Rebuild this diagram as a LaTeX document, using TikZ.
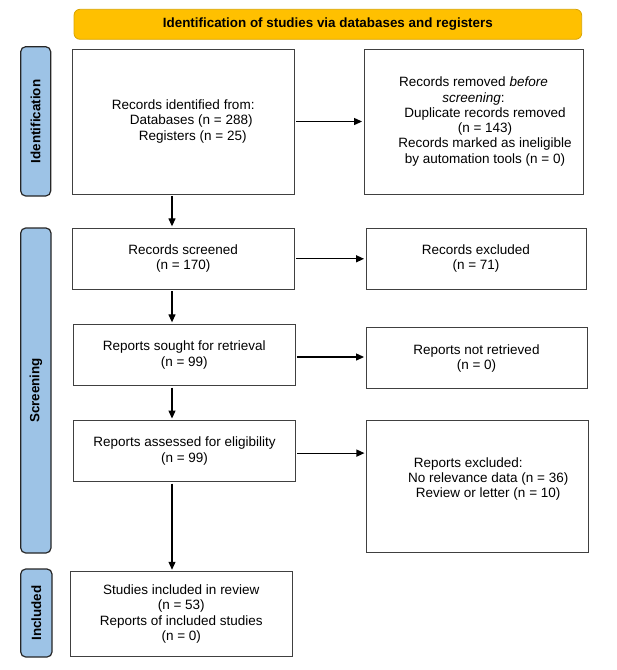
\documentclass[tikz,border=0pt]{standalone}
\usepackage{fontspec}
\setmainfont{Liberation Sans}
\usetikzlibrary{arrows.meta}
\definecolor{bannerfill}{HTML}{FFC000}
\definecolor{bannerline}{HTML}{D9A400}
\definecolor{sidefill}{HTML}{9DC3E6}
\begin{document}
\begin{tikzpicture}[x=1pt,y=-1pt,
  txt/.style={font=\fontsize{13.5}{15.3}\selectfont},
  box/.style={txt, draw=black!75, line width=0.9pt, rectangle, inner sep=0pt, align=center},
  side/.style={draw=black!85, fill=sidefill, line width=1.2pt, rounded corners=5pt, inner sep=0pt,
    font=\bfseries\fontsize{13.4}{15.3}\selectfont},
  banner/.style={draw=bannerline, fill=bannerfill, line width=0.8pt, rounded corners=6pt, inner sep=0pt,
    font=\bfseries\fontsize{13.4}{15.3}\selectfont},
  arr/.style={line width=1.2pt, -{Triangle[length=8pt,width=7pt]}, shorten <=1.5pt, shorten >=1.5pt}]
\useasboundingbox (0,0) rectangle (617,670);

% banner
\node[banner, minimum width=507.7pt, minimum height=30pt] (ban) at (327.85,24.3)
  {Identification of studies via databases and registers};

% side labels
\node[side, rotate=90, minimum width=149.3pt, minimum height=30pt] (lab1) at (35.7,121.35) {Identification};
\node[side, rotate=90, minimum width=325pt, minimum height=30.3pt] (lab2) at (35.85,390.5) {Screening};
\node[side, rotate=90, minimum width=88pt, minimum height=31.3pt] (lab3) at (36.35,613) {Included};

% boxes
\node[box, minimum width=221.5pt, minimum height=145pt] (b1) at (183.25,121.5)
  {Records identified from:\\ \rule{16pt}{0pt}Databases (n = 288)\\ \rule{19pt}{0pt}Registers (n = 25)};
\node[box, minimum width=219pt, minimum height=145pt] (b2) at (473.5,121.5)
  {Records removed \textit{before}\\ \textit{screening}:\\ \rule{23pt}{0pt}Duplicate records removed\\
   \rule{23pt}{0pt}(n = 143)\\ \rule{23pt}{0pt}Records marked as ineligible\\
   \rule{23pt}{0pt}by automation tools (n = 0)};
\node[box, minimum width=221.5pt, minimum height=61pt] (b3) at (183.25,258.8)
  {Records screened\\(n = 170)};
\node[box, minimum width=220pt, minimum height=61pt] (ex) at (476,258.8)
  {Records excluded\\(n = 71)};
\node[box, minimum width=221.5pt, minimum height=61.4pt] (b4) at (184.25,355)
  {Reports sought for retrieval\\(n = 99)};
\node[box, minimum width=221pt, minimum height=61pt] (b5) at (476.5,358.2)
  {Reports not retrieved\\(n = 0)};
\node[box, minimum width=222pt, minimum height=61.2pt] (b6) at (184.5,451.1)
  {Reports assessed for eligibility\\(n = 99)};
\node[box, minimum width=221.6pt, minimum height=131.8pt] (b7) at (477.2,486.4)
  {Reports excluded:\rule{18pt}{0pt}\\ \rule{22pt}{0pt}No relevance data (n = 36)\\
   \rule{22pt}{0pt}Review or letter (n = 10)\\ \rule[-2pt]{0pt}{2pt}};
\node[box, minimum width=221.5pt, minimum height=84.3pt] (b8) at (181.25,613.85)
  {Studies included in review\\(n = 53)\\Reports of included studies\\(n = 0)};

% connectors
\coordinate (col) at (172,0);
\draw[arr] (b1.east) -- (b2.west);
\draw[arr] (b1.south -| col) -- (b3.north -| col);
\draw[arr] (b3.east) -- (ex.west);
\draw[arr] (b3.south -| col) -- (b4.north -| col);
\draw[arr] ([yshift=-2pt]b4.east) -- ([yshift=-2pt]b4.east -| b5.west);
\draw[arr] (b4.south -| col) -- (b6.north -| col);
\draw[arr] ([yshift=-2pt]b6.east) -- ([yshift=-2pt]b6.east -| b7.west);
\draw[arr] (b6.south -| col) -- (b8.north -| col);
\end{tikzpicture}
\end{document}
